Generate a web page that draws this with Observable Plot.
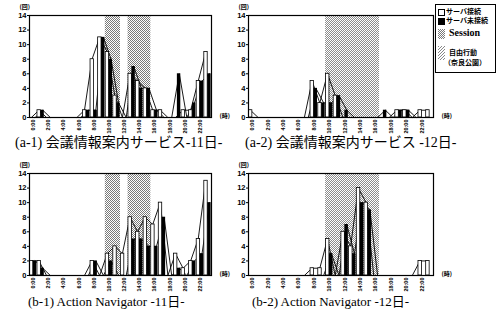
<!DOCTYPE html>
<html><head><meta charset="utf-8">
<script src="https://cdn.jsdelivr.net/npm/d3@7"></script>
<script src="https://cdn.jsdelivr.net/npm/@observablehq/plot@0.6"></script>
<style>
body{margin:0;background:#fff;}
#root{position:relative;width:503px;height:320px;overflow:hidden;font-family:"Liberation Serif","Noto Sans CJK JP",serif;color:#000;}
.panel{position:absolute;}
.cap{position:absolute;white-space:nowrap;line-height:1;}
#legend{position:absolute;left:435px;top:4px;width:59px;height:67px;border:1px solid #000;background:#fff;font-family:"Noto Sans CJK JP",sans-serif;font-weight:bold;}
#legend .it{position:absolute;white-space:nowrap;line-height:1;}
#legend .sw{display:inline-block;vertical-align:middle;}
</style></head>
<body>
<svg width="0" height="0" style="position:absolute">
<defs>
<pattern id="sess" width="2" height="2" patternUnits="userSpaceOnUse"><rect width="2" height="2" fill="#fff"/><rect width="1" height="1" fill="#7a7a7a"/><rect x="1" y="1" width="1" height="1" fill="#7a7a7a"/></pattern>
<pattern id="free" width="2" height="2" patternUnits="userSpaceOnUse"><rect width="2" height="2" fill="#fff"/><rect width="1" height="1" fill="#8c8c8c"/><rect x="1" y="1" width="1" height="1" fill="#8c8c8c"/></pattern>
<pattern id="freeL" width="3" height="3" patternUnits="userSpaceOnUse"><rect width="3" height="3" fill="#fff"/><rect width="1" height="1" fill="#888"/><rect x="2" y="1" width="1" height="1" fill="#888"/><rect x="1" y="2" width="1" height="1" fill="#888"/></pattern>
</defs></svg>
<div id="root"></div>
<script>
const hours = d3.range(24);
const tickHours = [0,2,4,6,8,10,12,14,16,18,20,22];
const tickLabels = ["0:00","2:00","4:00","6:00","8:00","10:00","12:00","14:00","16:00","18:00","20:00","22:00"];
const yTicks = [0,2,4,6,8,10,12,14];

// (a-1) 会議情報案内サービス 11日
const a1Connected    = [0,1,0,0,0,0,0,1,8,11,9,3,0,6,5,4,1,1,0,0,1,1,5,9];
const a1NotConnected = [0,1,0,0,0,0,0,1,1,11,8,2,0,7,4,4,1,0,0,6,0,2,5,6];
const a1ShadeStart = [10,13];
const a1ShadeEnd   = [12,16];
// (a-2) 会議情報案内サービス 12日
const a2Connected    = [1,0,0,0,0,0,0,0,5,2,6,3,0,0,0,0,0,0,0,1,1,0,1,1];
const a2NotConnected = [0,0,0,0,0,0,0,0,4,2,2,3,1,0,0,0,0,1,0,1,1,0,0,0];
const a2ShadeStart = [10];
const a2ShadeEnd   = [17];
// (b-1) Action Navigator 11日
const b1Connected    = [2,2,0,0,0,0,0,0,2,0,3,4,3,8,6,8,7,10,0,3,1,2,5,13];
const b1NotConnected = [2,1,0,0,0,0,0,0,2,0,2,0,0,5,5,4,4,8,0,1,0,2,3,10];
const b1ShadeStart = [10,13];
const b1ShadeEnd   = [12,16];
// (b-2) Action Navigator 12日
const b2Connected    = [0,0,0,0,0,0,0,0,1,1,5,0,6,4,12,10,0,0,0,0,0,0,2,2];
const b2NotConnected = [0,0,0,0,0,0,0,0,0,0,3,0,7,3,10,9,0,0,0,0,0,0,0,0];
const b2ShadeStart = [10];
const b2ShadeEnd   = [17];

const captions = [
  "(a-1)  会議情報案内サービス-11日-",
  "(a-2) 会議情報案内サービス -12日-",
  "(b-1) Action Navigator -11日-",
  "(b-2) Action Navigator -12日-"
];

function panel(connected, notConnected, shadeStart, shadeEnd, shadeFill, width) {
  const rows = hours.map((h, i) => ({h, c: connected[i], n: notConnected[i]}));
  const shades = shadeStart.map((s, i) => ({s, e: shadeEnd[i]}));
  return Plot.plot({
    width, height: 140,
    marginLeft: 29, marginRight: 39, marginTop: 15, marginBottom: 23,
    style: {background: "transparent", overflow: "visible"},
    x: {domain: [0, 24]},
    y: {domain: [0, 14]},
    marks: [
      Plot.rect(shades, {x1: "s", x2: "e", y1: () => 0, y2: () => 14, fill: shadeFill}),
      Plot.lineY(rows, {x: d => d.h + 0.25, y: "c", stroke: "#000", strokeWidth: 0.9}),
      Plot.lineY(rows, {x: d => d.h + 0.75, y: "n", stroke: "#000", strokeWidth: 0.9}),
      Plot.rect(rows.filter(d => d.c > 0), {x1: d => d.h + 0.05, x2: d => d.h + 0.5, y1: () => 0, y2: "c", fill: "#fff", stroke: "#000", strokeWidth: 0.8}),
      Plot.rect(rows.filter(d => d.n > 0), {x1: d => d.h + 0.5, x2: d => d.h + 0.95, y1: () => 0, y2: "n", fill: "#000"}),
      Plot.frame({stroke: "#000", strokeWidth: 1.2}),
      Plot.axisY({ticks: yTicks, tickSize: 2, tickPadding: 1, fontSize: 7.5, fontWeight: "bold", fontFamily: "Liberation Sans", label: null}),
      Plot.axisX({ticks: tickHours.map(h => h + 0.5), tickFormat: d => tickLabels[tickHours.indexOf(d - 0.5)], tickRotate: -90, tickSize: 0, tickPadding: 2, fontSize: 5.5, fontWeight: "bold", fontFamily: "Liberation Sans", label: null}),
      Plot.text(["(回)"], {frameAnchor: "top-left", dx: -10, dy: -11, fontSize: 6, fontWeight: "bold", fontFamily: "Noto Sans CJK JP"}),
      Plot.text(["(時)"], {frameAnchor: "bottom-right", dx: 8, dy: 0, textAnchor: "start", fontSize: 6, fontWeight: "bold", fontFamily: "Noto Sans CJK JP"})
    ]
  });
}

const root = document.getElementById("root");
function place(el, left, top) {
  const d = document.createElement("div");
  d.className = "panel"; d.style.left = left + "px"; d.style.top = top + "px";
  d.appendChild(el); root.appendChild(d);
}
place(panel(a1Connected, a1NotConnected, a1ShadeStart, a1ShadeEnd, "url(#sess)", 250), 0, 0);
place(panel(a2Connected, a2NotConnected, a2ShadeStart, a2ShadeEnd, "url(#free)", 253), 219, 0);
place(panel(b1Connected, b1NotConnected, b1ShadeStart, b1ShadeEnd, "url(#sess)", 250), 0, 158);
place(panel(b2Connected, b2NotConnected, b2ShadeStart, b2ShadeEnd, "url(#free)", 253), 219, 158);

function cap(text, left, top, size) {
  const d = document.createElement("div");
  d.className = "cap"; d.textContent = text;
  d.style.left = left + "px"; d.style.top = top + "px"; d.style.fontSize = size + "px";
  root.appendChild(d);
}
cap(captions[0], 15, 136, 14);
cap(captions[1], 245, 136, 14);
cap(captions[2], 28, 295, 13);
cap(captions[3], 252, 295, 13);

// legend
const legendLabels = ["サーバ接続", "サーバ未接続", "Session", "自由行動", "（奈良公園）"];
const lg = document.createElement("div"); lg.id = "legend";
lg.innerHTML =
  `<div class="it" style="left:2px;top:3px;font-size:7px"><span class="sw" style="width:5px;height:5px;border:1px solid #000;background:#fff;margin-right:1px"></span>${legendLabels[0]}</div>` +
  `<div class="it" style="left:2px;top:12px;font-size:7px"><span class="sw" style="width:7px;height:7px;background:#000;margin-right:1px"></span>${legendLabels[1]}</div>` +
  `<div class="it" style="left:2px;top:23px;font-size:10px;font-family:'Liberation Serif',serif"><svg class="sw" width="7" height="10" style="margin-right:4px"><rect width="7" height="10" fill="url(#sess)"/></svg>${legendLabels[2]}</div>` +
  `<div class="it" style="left:2px;top:41px;font-size:7px"><svg class="sw" width="7" height="14" style="margin-right:4px"><rect width="7" height="14" fill="url(#freeL)"/></svg>${legendLabels[3]}</div>` +
  `<div class="it" style="left:8px;top:54px;font-size:7px">${legendLabels[4]}</div>`;
root.appendChild(lg);
</script>
</body></html>
